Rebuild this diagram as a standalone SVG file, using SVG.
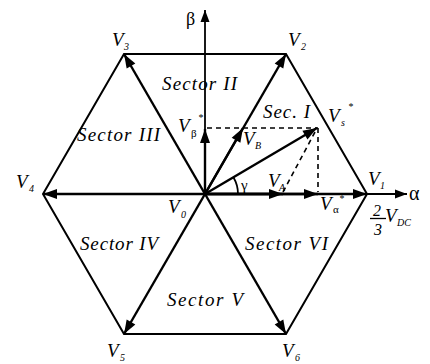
<svg xmlns="http://www.w3.org/2000/svg" width="430" height="364" viewBox="0 0 430 364">
<style>
.v{font-family:"Liberation Serif",serif;font-style:italic;font-size:19px;fill:#000}
.s{font-family:"Liberation Serif",serif;font-style:italic;font-size:10px;fill:#000}
.g{font-family:"Liberation Serif",serif;fill:#000}
.sec{font-family:"Liberation Serif",serif;font-style:italic;font-size:19px;fill:#000}
.hex{fill:none;stroke:#000;stroke-width:2}
.sp{fill:none;stroke:#000;stroke-width:2.4}
.ax{fill:none;stroke:#000;stroke-width:1.8}
.da{fill:none;stroke:#000;stroke-width:1.6;stroke-dasharray:5 4}
</style>
<defs>
<marker id="ah" markerUnits="userSpaceOnUse" markerWidth="15" markerHeight="11" refX="14" refY="5" orient="auto" overflow="visible">
<path d="M0,0 L14,5 L0,10 Z" fill="#000"/>
</marker>
<marker id="ahs" markerUnits="userSpaceOnUse" markerWidth="13" markerHeight="9" refX="12" refY="4.5" orient="auto" overflow="visible">
<path d="M0,0 L12,4.5 L0,9 Z" fill="#000"/>
</marker>
</defs>
<rect width="430" height="364" fill="#fff"/>
<g id="hexagon">
<polygon class="hex" points="367,194 286,54 124,54 43,194 124,334 286,334"/>
</g>
<g id="connectors">
<line class="ax" x1="205" y1="194" x2="407" y2="194" marker-end="url(#ahs)"/>
<line class="ax" x1="205" y1="194" x2="205" y2="10" marker-end="url(#ahs)"/>
<line class="sp" x1="205" y1="194" x2="367" y2="194" marker-end="url(#ah)"/>
<line class="sp" x1="205" y1="194" x2="286" y2="54" marker-end="url(#ah)"/>
<line class="sp" x1="205" y1="194" x2="124" y2="54" marker-end="url(#ah)"/>
<line class="sp" x1="205" y1="194" x2="43" y2="194" marker-end="url(#ah)"/>
<line class="sp" x1="205" y1="194" x2="124" y2="334" marker-end="url(#ah)"/>
<line class="sp" x1="205" y1="194" x2="286" y2="334" marker-end="url(#ah)"/>
<line class="sp" x1="205" y1="194" x2="283" y2="194" marker-end="url(#ah)"/>
<line class="sp" x1="205" y1="194" x2="318" y2="194" marker-end="url(#ah)"/>
<line class="sp" x1="205" y1="194" x2="205" y2="129" marker-end="url(#ah)"/>
<line class="sp" x1="205" y1="194" x2="243" y2="128" marker-end="url(#ah)"/>
<line class="sp" stroke-width="3" x1="205" y1="194" x2="317" y2="128" marker-end="url(#ah)"/>
<line class="da" x1="207" y1="128" x2="318" y2="128"/>
<line class="da" x1="318" y1="128" x2="318" y2="192"/>
<line class="da" x1="283" y1="192" x2="315" y2="132"/>
<path class="ax" stroke-width="1.5" d="M238,194 A33,33 0 0 0 233.4,177.3"/>
</g>
<g id="sectors">
<text id="sector-1" class="sec" x="263" y="118" textLength="47">Sec. I</text>
<text id="sector-2" class="sec" x="162" y="90" textLength="75">Sector II</text>
<text id="sector-3" class="sec" x="77" y="141" textLength="83">Sector III</text>
<text id="sector-4" class="sec" x="80" y="250" textLength="78">Sector IV</text>
<text id="sector-5" class="sec" x="167" y="306" textLength="76">Sector V</text>
<text id="sector-6" class="sec" x="245" y="250" textLength="83">Sector VI</text>
</g>
<g id="V0"><text class="v" x="168" y="213">V</text><text class="s" x="181" y="218">0</text></g>
<g id="V1"><text class="v" x="368" y="185">V</text><text class="s" x="380" y="189">1</text></g>
<g id="V2"><text class="v" x="288" y="46">V</text><text class="s" x="301" y="50">2</text></g>
<g id="V3"><text class="v" x="112" y="46">V</text><text class="s" x="124" y="50">3</text></g>
<g id="V4"><text class="v" x="16" y="188">V</text><text class="s" x="29" y="192">4</text></g>
<g id="V5"><text class="v" x="107" y="357">V</text><text class="s" x="120" y="361">5</text></g>
<g id="V6"><text class="v" x="282" y="357">V</text><text class="s" x="295" y="361">6</text></g>
<g id="Vbeta"><text class="v" x="178" y="132">V</text><text class="g" font-size="11" x="191" y="137">β</text><text class="s" font-size="9" x="198" y="121">*</text></g>
<g id="VB"><text class="v" x="243" y="145">V</text><text class="s" x="255" y="149">B</text></g>
<g id="Vs"><text class="v" x="328" y="122">V</text><text class="s" font-size="11" x="341" y="126">s</text><text class="s" font-size="9" x="348" y="110">*</text></g>
<g id="VA"><text class="v" x="268" y="187">V</text><text class="s" x="279" y="191">A</text></g>
<g id="Valpha"><text class="v" x="320" y="210">V</text><text class="g" font-size="11" x="333" y="213">α</text><text class="s" font-size="9" x="339" y="202">*</text></g>
<g id="gamma"><text class="g" font-size="15" x="241" y="190">γ</text></g>
<g id="alpha-axis"><text class="g" font-size="20" x="409" y="200">α</text></g>
<g id="beta-axis"><text class="g" font-size="18" x="186" y="25">β</text></g>
<g id="Vdc">
<text class="g" font-style="italic" font-size="16" x="373" y="216">2</text>
<line x1="370" y1="218.5" x2="386" y2="218.5" stroke="#000" stroke-width="1.3"/>
<text class="g" font-style="italic" font-size="16" x="374" y="235">3</text>
<text class="v" x="385" y="222">V</text><text class="s" x="397" y="226">DC</text>
</g>
</svg>
